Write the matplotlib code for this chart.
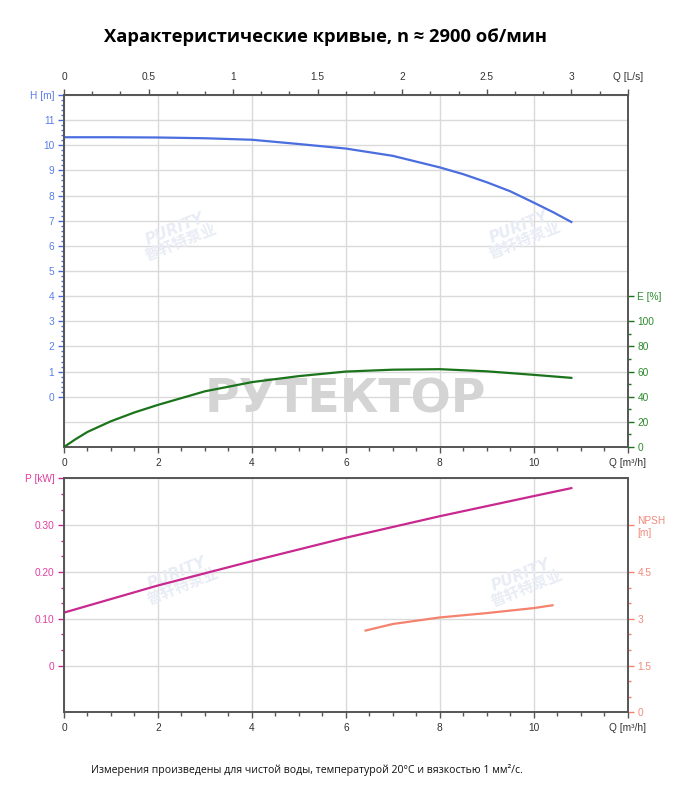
import numpy as np
import matplotlib
matplotlib.use('Agg')
import matplotlib.pyplot as plt
from matplotlib.ticker import FixedLocator

plt.rcParams['font.family'] = ['Liberation Sans', 'DejaVu Sans']

# flow axis (m3/h) and curve readings
q_h = [0, 1, 2, 3, 4, 5, 6, 7, 8, 8.5, 9, 9.5, 10, 10.4, 10.8]
head = [10.32, 10.32, 10.31, 10.28, 10.22, 10.05, 9.87, 9.58, 9.12, 8.85, 8.53, 8.17, 7.72, 7.35, 6.95]

q_e = [0, 0.25, 0.5, 1, 1.5, 2, 3, 4, 5, 6, 7, 8, 9, 10, 10.8]
eff = [0, 6.3, 12, 20.5, 27.5, 33.5, 44.3, 51.6, 56.4, 60, 61.5, 61.9, 60.2, 57.4, 55]

q_p = [0, 2, 4, 6, 8, 10, 10.8]
power = [0.113, 0.171, 0.223, 0.273, 0.319, 0.362, 0.379]

q_n = [6.42, 7, 8, 9, 10, 10.4]
npsh = [2.62, 2.83, 3.04, 3.18, 3.34, 3.43]

q_ticks = [0, 2, 4, 6, 8, 10, 12]
q_labels = ['0', '2', '4', '6', '8', '10', 'Q [m³/h]']
ls_ticks = [0, 0.5, 1, 1.5, 2, 2.5, 3, 10 / 3]
ls_labels = ['0', '0.5', '1', '1.5', '2', '2.5', '3', 'Q [L/s]']
h_ticks = list(range(0, 13))
h_labels = [str(v) for v in range(0, 12)] + ['H [m]']
e_ticks = [0, 20, 40, 60, 80, 100, 120]
e_labels = ['0', '20', '40', '60', '80', '100', 'E [%]']
p_ticks = [0, 0.1, 0.2, 0.3, 0.4]
p_labels = ['0', '0.10', '0.20', '0.30', 'P [kW]']
n_ticks = [0, 1.5, 3, 4.5, 6]
n_labels = ['0', '1.5', '3', '4.5', 'NPSH\n[m]']

C_H, C_HL = '#4a6ee0', '#5b7ee8'
C_E, C_EL = '#1b741b', '#2c8a2c'
C_P, C_PL = '#c9288e', '#df3f9f'
C_N, C_NL = '#f5826f', '#f08a7a'
SPINE = '#555555'
GRID = '#dadada'
TXT = '#333333'
FS = 7.3

W, H = 691, 800
fig = plt.figure(figsize=(W / 100, H / 100), dpi=100)


def rect(l, t, r, b):
    return [l / W, 1 - b / H, (r - l) / W, (b - t) / H]


def style(ax):
    for s in ax.spines.values():
        s.set_color(SPINE)
        s.set_linewidth(1.2)
    ax.grid(True, color=GRID, lw=1)
    ax.set_axisbelow(True)
    ax.set_xlim(0, 12)
    ax.xaxis.set_major_locator(FixedLocator(q_ticks))
    ax.set_xticklabels(q_labels)
    ax.xaxis.set_minor_locator(FixedLocator(np.arange(0, 12.01, 0.5)))
    ax.tick_params(axis='x', which='major', direction='out', length=4, width=1, color=SPINE,
                   labelsize=FS, labelcolor=TXT, pad=4)
    ax.tick_params(axis='x', which='minor', direction='out', length=3, width=1, color=SPINE)


def watermark(ax, cx, cy):
    ax.text(cx / W, 1 - cy / H, 'PURITY\n普轩特泵业', transform=fig.transFigure, fontsize=11,
            fontweight='bold', style='italic', color='#e8ecf5', ha='center', va='center',
            rotation=22, linespacing=0.95, family=['DejaVu Sans', 'Noto Sans CJK SC'], zorder=1)


# ---- upper chart: head and efficiency ----
ax1 = fig.add_axes(rect(64, 95, 627.7, 447))
style(ax1)
ax1.set_ylim(-2, 12)
ax1.yaxis.set_major_locator(FixedLocator(h_ticks))
ax1.set_yticklabels(h_labels)
ax1.yaxis.set_minor_locator(FixedLocator(np.arange(0, 12.01, 0.2)))
ax1.tick_params(axis='y', which='major', direction='out', length=4, width=1, color=C_H,
                labelsize=FS, labelcolor=C_HL, pad=3)
ax1.tick_params(axis='y', which='minor', direction='out', length=2.5, width=1, color=C_H)
ax1.axhline(-1, color=GRID, lw=1, zorder=0)
ax1.plot(q_h, head, color=C_H, lw=1.6, zorder=4)
ax1.text(345 / W, 1 - 400 / H, 'РУТЕКТОР', transform=fig.transFigure, fontsize=34,
         fontweight='bold', color='#d4d4d4', ha='center', va='center', family='DejaVu Sans',
         zorder=2)
watermark(ax1, 178, 236)
watermark(ax1, 522, 234)

top = ax1.secondary_xaxis('top', functions=(lambda q: q / 3.6, lambda l: l * 3.6))
top.xaxis.set_major_locator(FixedLocator(ls_ticks))
top.set_xticklabels(ls_labels)
top.xaxis.set_minor_locator(FixedLocator(np.arange(0, 3.34, 1 / 6)))
top.tick_params(axis='x', which='major', direction='out', length=4, width=1, color=SPINE,
                labelsize=FS, labelcolor=TXT, pad=5)
top.tick_params(axis='x', which='minor', direction='out', length=3, width=1, color=SPINE)
top.spines['top'].set_color(SPINE)
top.spines['top'].set_linewidth(1.2)

ax1e = ax1.twinx()
ax1e.set_ylim(0, 280)
ax1e.yaxis.set_major_locator(FixedLocator(e_ticks))
ax1e.set_yticklabels(e_labels)
ax1e.yaxis.set_minor_locator(FixedLocator(np.arange(10, 100, 20)))
ax1e.tick_params(axis='y', which='major', direction='out', length=4, width=1, color=C_E,
                 labelsize=FS, labelcolor=C_EL, pad=3)
ax1e.tick_params(axis='y', which='minor', direction='out', length=2.5, width=1, color=C_E)
for s in ax1e.spines.values():
    s.set_color(SPINE)
    s.set_linewidth(1.2)
ax1e.plot(q_e, eff, color=C_E, lw=1.6, zorder=4)

# ---- lower chart: power and NPSH ----
ax2 = fig.add_axes(rect(64, 478.3, 627.7, 712.3))
style(ax2)
ax2.set_ylim(-0.1, 0.4)
ax2.yaxis.set_major_locator(FixedLocator(p_ticks))
ax2.set_yticklabels(p_labels)
ax2.yaxis.set_minor_locator(FixedLocator(np.arange(0, 0.401, 0.1 / 3)))
ax2.tick_params(axis='y', which='major', direction='out', length=4, width=1, color=C_P,
                labelsize=FS, labelcolor=C_PL, pad=3)
ax2.tick_params(axis='y', which='minor', direction='out', length=2.5, width=1, color=C_P)
ax2.plot(q_p, power, color=C_P, lw=1.6, zorder=4)
watermark(ax2, 180, 580)
watermark(ax2, 524, 582)

ax2n = ax2.twinx()
ax2n.set_ylim(0, 7.5)
ax2n.yaxis.set_major_locator(FixedLocator(n_ticks))
ax2n.set_yticklabels(n_labels)
ax2n.yaxis.set_minor_locator(FixedLocator(np.arange(0, 4.51, 0.5)))
ax2n.tick_params(axis='y', which='major', direction='out', length=4, width=1, color=C_N,
                 labelsize=FS, labelcolor=C_NL, pad=3)
ax2n.tick_params(axis='y', which='minor', direction='out', length=2.5, width=1, color=C_N)
for lab in ax2n.get_yticklabels():
    lab.set_horizontalalignment('left')
for s in ax2n.spines.values():
    s.set_color(SPINE)
    s.set_linewidth(1.2)
ax2n.plot(q_n, npsh, color=C_N, lw=1.6, zorder=4)

# ---- texts ----
fig.text(325 / W, 1 - 37 / H, 'Характеристические кривые, n ≈ 2900 об/мин', fontsize=13.2,
         fontweight='bold', color='#000000', ha='center', va='center', family='Open Sans')
fig.text(307 / W, 1 - 770 / H, 'Измерения произведены для чистой воды, температурой 20°C и вязкостью 1 мм²/с.',
         fontsize=7.6, color='#111111', ha='center', va='center', family='Open Sans')

fig.savefig('out.png', dpi=100)
